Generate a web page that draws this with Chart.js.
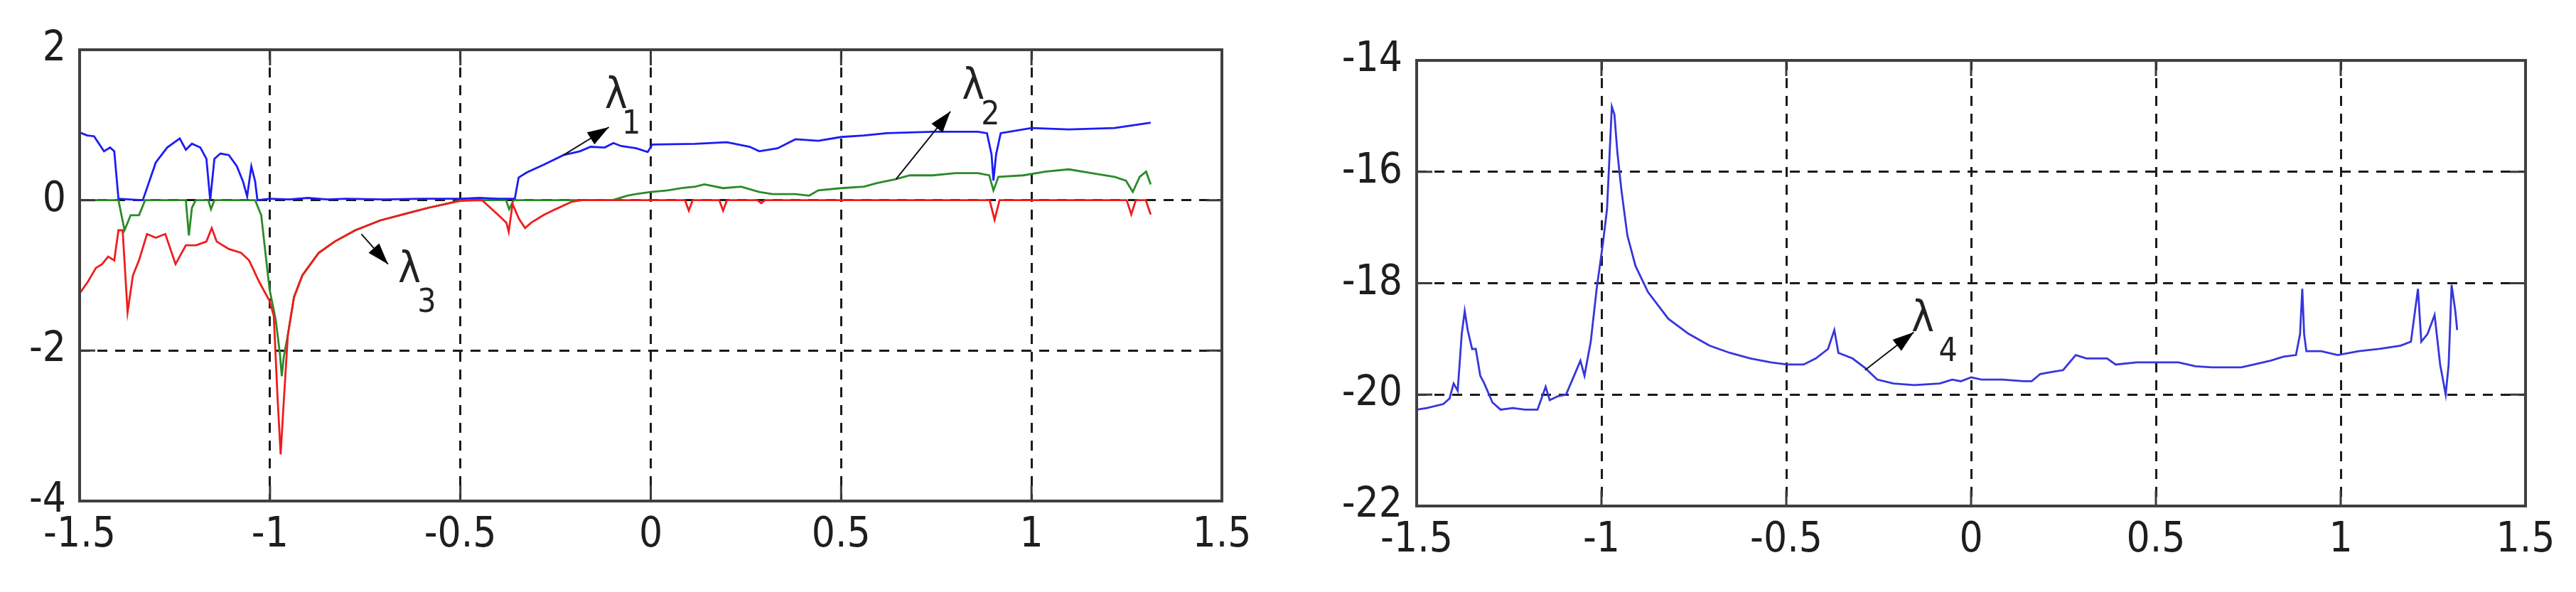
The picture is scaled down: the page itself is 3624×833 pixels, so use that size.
<!DOCTYPE html>
<html>
<head>
<meta charset="utf-8">
<script src="https://cdn.jsdelivr.net/npm/chart.js@4.4.0/dist/chart.umd.min.js"></script>
<style>
  body { margin: 0; background: #fff; }
  canvas { position: absolute; top: 0; }
  #leftChart { left: 0; }
  #rightChart { left: 1800px; }
</style>
</head>
<body>
<canvas id="leftChart" width="1800" height="833"></canvas>
<canvas id="rightChart" width="1824" height="833"></canvas>
<script>
// ------------------ DATA ------------------
const xTicks = [-1.5, -1, -0.5, 0, 0.5, 1, 1.5];
const leftYTicks = [-4, -2, 0, 2];
const rightYTicks = [-22, -20, -18, -16, -14];

// lambda 1 (blue)
const lambda1 = [
    [-1.5, 0.9], [-1.48, 0.86], [-1.462, 0.85], [-1.436, 0.65], [-1.42, 0.7], [-1.409, 0.65], [-1.398, 0.02],
    [-1.37, 0.01], [-1.334, 0.0], [-1.30, 0.5], [-1.27, 0.7], [-1.237, 0.82], [-1.221, 0.67],
    [-1.205, 0.75], [-1.183, 0.7], [-1.167, 0.55], [-1.157, 0.0], [-1.146, 0.55], [-1.13, 0.62],
    [-1.108, 0.6], [-1.087, 0.45], [-1.071, 0.25], [-1.06, 0.05], [-1.049, 0.45], [-1.039, 0.25],
    [-1.033, 0.0], [-1.0, 0.02], [-0.95, 0.01], [-0.9, 0.03], [-0.85, 0.01], [-0.8, 0.02],
    [-0.7, 0.01], [-0.6, 0.02], [-0.5, 0.02], [-0.45, 0.03], [-0.4, 0.02], [-0.357, 0.02],
    [-0.347, 0.3], [-0.325, 0.37], [-0.282, 0.47], [-0.229, 0.6], [-0.186, 0.65], [-0.158, 0.71],
    [-0.121, 0.7], [-0.098, 0.76], [-0.078, 0.72], [-0.038, 0.69], [-0.008, 0.64], [0.004, 0.74],
    [0.117, 0.75], [0.2, 0.77], [0.26, 0.71], [0.285, 0.65], [0.333, 0.69], [0.38, 0.81],
    [0.44, 0.79], [0.5, 0.84], [0.56, 0.86], [0.62, 0.89], [0.74, 0.91], [0.859, 0.91],
    [0.883, 0.89], [0.895, 0.61], [0.9, 0.26], [0.907, 0.61], [0.919, 0.89], [1.0, 0.96],
    [1.098, 0.94], [1.218, 0.96], [1.313, 1.03]
];

// lambda 2 (green)
const lambda2 = [
    [-1.5, 0.0], [-1.398, 0.0], [-1.382, -0.4], [-1.366, -0.2], [-1.344, -0.2], [-1.328, 0.0],
    [-1.221, 0.0], [-1.213, -0.47], [-1.205, -0.1], [-1.195, 0.0], [-1.162, 0.0], [-1.155, -0.12],
    [-1.146, 0.0], [-1.039, 0.0], [-1.023, -0.2], [-1.012, -0.7], [-1.001, -1.19], [-0.985, -1.59],
    [-0.974, -2.04], [-0.969, -2.34], [-0.964, -2.09], [-0.953, -1.79], [-0.937, -1.29],
    [-0.915, -1.0], [-0.872, -0.7], [-0.83, -0.55], [-0.776, -0.4], [-0.711, -0.27],
    [-0.636, -0.17], [-0.583, -0.1], [-0.529, -0.04], [-0.5, 0.0], [-0.38, 0.0], [-0.372, -0.12],
    [-0.36, 0.0], [-0.1, 0.0], [-0.062, 0.06], [-0.04, 0.08], [0.0, 0.11], [0.045, 0.13],
    [0.081, 0.16], [0.117, 0.18], [0.141, 0.21], [0.19, 0.16], [0.237, 0.18], [0.285, 0.11],
    [0.32, 0.08], [0.38, 0.08], [0.416, 0.06], [0.44, 0.13], [0.5, 0.16], [0.56, 0.18],
    [0.596, 0.23], [0.644, 0.28], [0.68, 0.33], [0.74, 0.33], [0.8, 0.36], [0.859, 0.36],
    [0.889, 0.33], [0.9, 0.13], [0.913, 0.31], [0.978, 0.33], [1.038, 0.38], [1.098, 0.41],
    [1.158, 0.36], [1.218, 0.31], [1.248, 0.26], [1.266, 0.11], [1.284, 0.31], [1.301, 0.38],
    [1.313, 0.21]
];

// lambda 3 (red)
const lambda3 = [
    [-1.5, -1.24], [-1.479, -1.09], [-1.457, -0.9], [-1.441, -0.85], [-1.425, -0.75], [-1.409, -0.8],
    [-1.398, -0.4], [-1.387, -0.4], [-1.374, -1.49], [-1.36, -1.0], [-1.344, -0.8], [-1.323, -0.45],
    [-1.30, -0.5], [-1.275, -0.45], [-1.248, -0.85], [-1.221, -0.6], [-1.194, -0.6], [-1.167, -0.55],
    [-1.153, -0.37], [-1.14, -0.55], [-1.108, -0.65], [-1.076, -0.7], [-1.055, -0.8], [-1.028, -1.09],
    [-1.001, -1.34], [-0.99, -1.54], [-0.98, -2.64], [-0.972, -3.38], [-0.964, -2.69], [-0.953, -1.79],
    [-0.937, -1.29], [-0.915, -1.0], [-0.872, -0.7], [-0.83, -0.55], [-0.776, -0.4], [-0.711, -0.27],
    [-0.636, -0.17], [-0.583, -0.1], [-0.529, -0.04], [-0.5, -0.01], [-0.443, 0.0], [-0.4, -0.2],
    [-0.379, -0.3], [-0.373, -0.42], [-0.363, -0.05], [-0.346, -0.25], [-0.33, -0.37], [-0.314, -0.3],
    [-0.282, -0.2], [-0.25, -0.12], [-0.207, -0.02], [-0.18, 0.0], [0.09, 0.0], [0.1, -0.14],
    [0.11, 0.0], [0.18, 0.0], [0.19, -0.14], [0.2, 0.0], [0.28, 0.0], [0.29, -0.04], [0.3, 0.0],
    [0.89, 0.0], [0.903, -0.26], [0.916, 0.0], [1.25, 0.0], [1.262, -0.19], [1.274, 0.0],
    [1.3, 0.0], [1.313, -0.19]
];

// lambda 4 (right panel)
const lambda4 = [
    [-1.5, -20.27], [-1.472, -20.24], [-1.428, -20.17], [-1.411, -20.07], [-1.4, -19.8], [-1.389, -19.93],
    [-1.378, -18.91], [-1.37, -18.5], [-1.362, -18.84], [-1.35, -19.18], [-1.34, -19.18], [-1.328, -19.66],
    [-1.317, -19.8], [-1.295, -20.14], [-1.273, -20.27], [-1.24, -20.24], [-1.207, -20.27], [-1.173, -20.27],
    [-1.151, -19.86], [-1.14, -20.1], [-1.118, -20.03], [-1.096, -20.0], [-1.074, -19.66], [-1.057, -19.39],
    [-1.046, -19.66], [-1.029, -19.05], [-1.013, -18.1], [-0.996, -17.28], [-0.985, -16.67], [-0.972, -14.83],
    [-0.965, -14.97], [-0.957, -15.65], [-0.946, -16.33], [-0.93, -17.14], [-0.908, -17.69], [-0.874, -18.16],
    [-0.819, -18.64], [-0.764, -18.91], [-0.708, -19.12], [-0.653, -19.25], [-0.597, -19.35], [-0.542, -19.42],
    [-0.498, -19.46], [-0.453, -19.46], [-0.42, -19.35], [-0.387, -19.18], [-0.37, -18.84], [-0.359, -19.25],
    [-0.321, -19.35], [-0.287, -19.52], [-0.254, -19.73], [-0.21, -19.8], [-0.154, -19.83], [-0.085, -19.8],
    [-0.051, -19.73], [-0.028, -19.76], [0.0, -19.69], [0.028, -19.73], [0.085, -19.73], [0.142, -19.76],
    [0.164, -19.76], [0.187, -19.63], [0.221, -19.59], [0.249, -19.56], [0.283, -19.29], [0.312, -19.35],
    [0.368, -19.35], [0.391, -19.46], [0.448, -19.42], [0.499, -19.42], [0.561, -19.42], [0.607, -19.49],
    [0.652, -19.51], [0.731, -19.51], [0.765, -19.46], [0.811, -19.39], [0.845, -19.32], [0.879, -19.29],
    [0.89, -18.91], [0.896, -18.1], [0.901, -18.91], [0.907, -19.22], [0.947, -19.22], [0.992, -19.29],
    [1.049, -19.22], [1.105, -19.18], [1.162, -19.12], [1.19, -19.05], [1.201, -18.5], [1.209, -18.1],
    [1.218, -19.05], [1.235, -18.91], [1.254, -18.57], [1.269, -19.46], [1.284, -20.0], [1.292, -19.46],
    [1.3, -18.03], [1.31, -18.5], [1.315, -18.84]
];

// annotation anchors in data units: label centre, subscript centre, arrow tail, arrow head
const leftLabels = [
    { sub: '1', at: [-0.091, 1.37], subAt: [-0.051, 1.0], tail: [-0.229, 0.6], head: [-0.11, 0.97] },
    { sub: '2', at: [0.847, 1.5], subAt: [0.892, 1.12], tail: [0.644, 0.28], head: [0.787, 1.18] },
    { sub: '3', at: [-0.634, -0.945], subAt: [-0.588, -1.37], tail: [-0.76, -0.45], head: [-0.69, -0.85] }
];
const rightLabels = [
    { sub: '4', at: [-0.131, -18.66], subAt: [-0.062, -19.25], tail: [-0.287, -19.56], head: [-0.155, -18.88] }
];

// ------------------ HELPERS ------------------
const tickFont = { family: "'Liberation Sans Narrow', 'Arial Narrow', 'DejaVu Sans Condensed', sans-serif", size: 58 };
const toPoints = arr => arr.map(p => ({ x: p[0], y: p[1] }));

function lineSet(data, color) {
    return {
        data: toPoints(data),
        borderColor: color,
        borderWidth: 2.8,
        pointRadius: 0,
        tension: 0,
        fill: false
    };
}

// box, inner tick marks, lambda labels and arrows
function framePlugin(labels) {
    return {
        id: 'frame',
        afterDatasetsDraw(chart) {
            const { ctx, chartArea: a, scales } = chart;
            const sx = scales.x, sy = scales.y;
            ctx.save();
            ctx.strokeStyle = '#3a3a3a';
            ctx.lineWidth = 3;
            ctx.beginPath();
            sx.ticks.forEach(t => {
                const px = sx.getPixelForValue(t.value);
                ctx.moveTo(px, a.bottom); ctx.lineTo(px, a.bottom - 22);
                ctx.moveTo(px, a.top); ctx.lineTo(px, a.top + 22);
            });
            sy.ticks.forEach(t => {
                const py = sy.getPixelForValue(t.value);
                ctx.moveTo(a.left, py); ctx.lineTo(a.left + 22, py);
                ctx.moveTo(a.right, py); ctx.lineTo(a.right - 22, py);
            });
            ctx.stroke();
            ctx.lineWidth = 4;
            ctx.strokeStyle = '#404040';
            ctx.strokeRect(a.left, a.top, a.right - a.left, a.bottom - a.top);

            labels.forEach(l => {
                const tx = sx.getPixelForValue(l.tail[0]), ty = sy.getPixelForValue(l.tail[1]);
                const hx = sx.getPixelForValue(l.head[0]), hy = sy.getPixelForValue(l.head[1]);
                const ang = Math.atan2(hy - ty, hx - tx);
                ctx.strokeStyle = '#111';
                ctx.lineWidth = 2;
                ctx.beginPath();
                ctx.moveTo(tx, ty); ctx.lineTo(hx, hy);
                ctx.stroke();
                ctx.fillStyle = '#000';
                ctx.beginPath();
                ctx.moveTo(hx, hy);
                ctx.lineTo(hx - 30 * Math.cos(ang) + 10 * Math.sin(ang), hy - 30 * Math.sin(ang) - 10 * Math.cos(ang));
                ctx.lineTo(hx - 30 * Math.cos(ang) - 10 * Math.sin(ang), hy - 30 * Math.sin(ang) + 10 * Math.cos(ang));
                ctx.closePath();
                ctx.fill();

                ctx.fillStyle = '#222';
                ctx.textAlign = 'center';
                ctx.textBaseline = 'middle';
                ctx.font = "60px 'Liberation Sans Narrow', 'DejaVu Sans Condensed', sans-serif";
                ctx.fillText('λ', sx.getPixelForValue(l.at[0]), sy.getPixelForValue(l.at[1]));
                ctx.font = "46px 'Liberation Sans Narrow', 'DejaVu Sans Condensed', sans-serif";
                ctx.fillText(l.sub, sx.getPixelForValue(l.subAt[0]), sy.getPixelForValue(l.subAt[1]));
            });
            ctx.restore();
        }
    };
}

function makeOptions(yTicks, yWidth, xHeight, pad, yPad) {
    return {
        responsive: false,
        animation: false,
        layout: { padding: pad },
        plugins: { legend: { display: false }, tooltip: { enabled: false } },
        scales: {
            x: {
                type: 'linear',
                min: xTicks[0],
                max: xTicks[xTicks.length - 1],
                afterBuildTicks: s => { s.ticks = xTicks.map(v => ({ value: v })); },
                afterFit: s => { s.height = xHeight; },
                grid: { color: '#1a1a1a', lineWidth: 3, drawTicks: false },
                border: { display: false, dash: [14, 11] },
                ticks: { font: tickFont, color: '#1e1e1e', padding: 14, maxRotation: 0, callback: v => String(v) }
            },
            y: {
                type: 'linear',
                min: yTicks[0],
                max: yTicks[yTicks.length - 1],
                afterBuildTicks: s => { s.ticks = yTicks.map(v => ({ value: v })); },
                afterFit: s => { s.width = yWidth; },
                grid: { color: '#1a1a1a', lineWidth: 3, drawTicks: false },
                border: { display: false, dash: [14, 11] },
                ticks: { font: tickFont, color: '#1e1e1e', padding: yPad, callback: v => String(v) }
            }
        }
    };
}

// ------------------ CHARTS ------------------
function initCharts() {
    new Chart(document.getElementById('leftChart').getContext('2d'), {
        type: 'line',
        data: {
            datasets: [
                lineSet(lambda3, '#f01c1c'),
                lineSet(lambda1, '#1c1cf5'),
                lineSet(lambda2, '#2a8a2a')
            ]
        },
        options: makeOptions(leftYTicks, 112, 128, { left: 0, right: 81, top: 70, bottom: 0 }, 19),
        plugins: [framePlugin(leftLabels)]
    });

    new Chart(document.getElementById('rightChart').getContext('2d'), {
        type: 'line',
        data: { datasets: [lineSet(lambda4, '#3636dc')] },
        options: makeOptions(rightYTicks, 193, 121, { left: 0, right: 71, top: 85, bottom: 0 }, 20),
        plugins: [framePlugin(rightLabels)]
    });
}

document.addEventListener('DOMContentLoaded', initCharts);
</script>
</body>
</html>
